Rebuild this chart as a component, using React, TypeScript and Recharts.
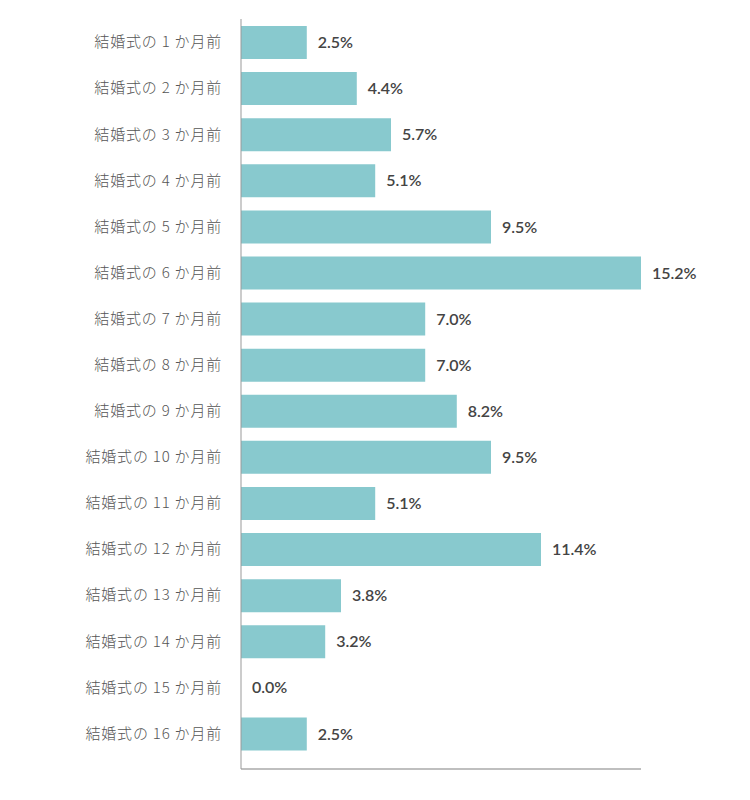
import React from 'react';
import { BarChart, Bar, XAxis, YAxis, LabelList } from 'recharts';

// Share of respondents by how many months before the wedding they started
const categories = [
  '結婚式の 1 か月前',
  '結婚式の 2 か月前',
  '結婚式の 3 か月前',
  '結婚式の 4 か月前',
  '結婚式の 5 か月前',
  '結婚式の 6 か月前',
  '結婚式の 7 か月前',
  '結婚式の 8 か月前',
  '結婚式の 9 か月前',
  '結婚式の 10 か月前',
  '結婚式の 11 か月前',
  '結婚式の 12 か月前',
  '結婚式の 13 か月前',
  '結婚式の 14 か月前',
  '結婚式の 15 か月前',
  '結婚式の 16 か月前',
];

const shares = [2.5, 4.4, 5.7, 5.1, 9.5, 15.2, 7.0, 7.0, 8.2, 9.5, 5.1, 11.4, 3.8, 3.2, 0.0, 2.5];

const data = categories.map((name, i) => ({ name, value: shares[i] }));

const FONT = '"Noto Sans CJK JP", "Noto Sans", sans-serif';
const VALUE_FONT = 'Lato, "Noto Sans", sans-serif';

export default function App() {
  return (
    <BarChart
      width={734}
      height={790}
      data={data}
      layout="vertical"
      margin={{ top: 11, right: 101, left: 0, bottom: 28 }}
      style={{ fontFamily: FONT }}
    >
      <XAxis
        type="number"
        domain={[0, 15.2]}
        tick={false}
        tickLine={false}
        height={1}
        axisLine={{ stroke: '#aaaaaa', strokeWidth: 1.5 }}
      />
      <YAxis
        type="category"
        dataKey="name"
        width={233}
        tickLine={false}
        tickSize={0}
        tickMargin={19}
        padding={{ top: 0, bottom: 12.5 }}
        axisLine={{ stroke: '#999999' }}
        tick={{
          fill: '#555555',
          fontSize: 15,
          fontFamily: FONT,
          fontWeight: 300,
          letterSpacing: 0.8,
        }}
        interval={0}
      />
      <Bar
        dataKey="value"
        fill="#88c9ce"
        barSize={33}
        minPointSize={0.01}
        isAnimationActive={false}
      >
        <LabelList
          dataKey="value"
          position="right"
          offset={11}
          formatter={(v: number) => `${Number(v).toFixed(1)}%`}
          style={{ fill: '#444444', fontSize: 16, fontWeight: 600, fontFamily: VALUE_FONT }}
        />
      </Bar>
    </BarChart>
  );
}
